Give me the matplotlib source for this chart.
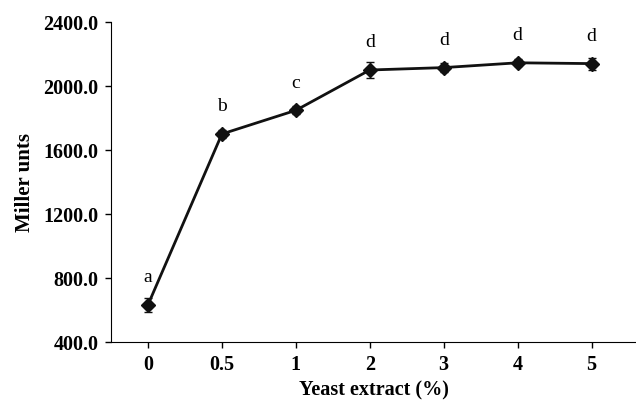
import matplotlib
matplotlib.use("Agg")
import matplotlib.pyplot as plt

categories = ["0", "0.5", "1", "2", "3", "4", "5"]
values = [632, 1700, 1848, 2100, 2115, 2145, 2140]
errors = [45, 25, 25, 50, 30, 22, 38]
letters = ["a", "b", "c", "d", "d", "d", "d"]

plt.rcParams['font.family'] = ['Liberation Serif', 'DejaVu Serif']

fig = plt.figure(figsize=(6.36, 4.0), dpi=100)
ax = fig.add_axes([0.1745, 0.145, 0.8255, 0.80])

x = list(range(len(categories)))
ax.errorbar(x, values, yerr=errors, color='#111111', lw=2, marker='D',
            markersize=7, capsize=3, elinewidth=1, capthick=1)

for xi, v, l in zip(x, values, letters):
    ax.text(xi, v + 170, l, ha='center', va='center', fontsize=14)

ax.set_xlim(-0.5, 6.6)
ax.set_ylim(400, 2400)
ax.set_yticks([400, 800, 1200, 1600, 2000, 2400])
ax.set_yticklabels([f"{t:.1f}" for t in [400, 800, 1200, 1600, 2000, 2400]])
ax.set_xticks(x)
ax.set_xticklabels(categories)
for lab in ax.get_xticklabels() + ax.get_yticklabels():
    lab.set_fontweight('bold')
    lab.set_fontsize(14.5)
ax.tick_params(direction='out', length=4, width=1, pad=5)
ax.spines['top'].set_visible(False)
ax.spines['right'].set_visible(False)
ax.set_ylabel("Miller unts", fontsize=15, fontweight='bold', labelpad=6)
ax.set_xlabel("Yeast extract (%)", fontsize=14.5, fontweight='bold', labelpad=4)

fig.savefig("out.png", dpi=100)
